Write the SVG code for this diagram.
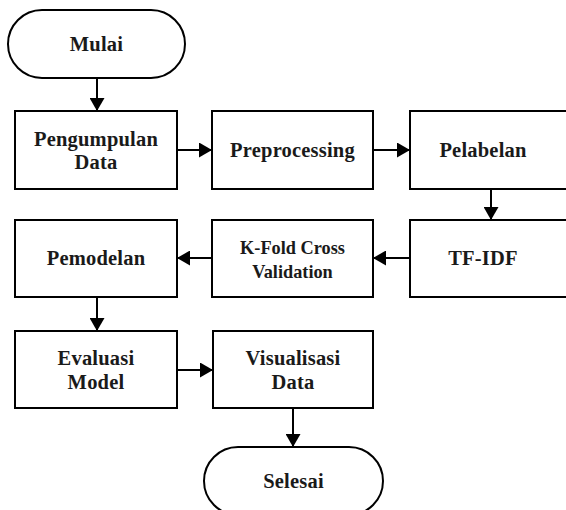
<svg xmlns="http://www.w3.org/2000/svg" width="566" height="510" viewBox="0 0 566 510">
<style>
.box{fill:#fff;stroke:#000;stroke-width:2}
.term{fill:#fff;stroke:#000;stroke-width:2}
.t{font-family:"Liberation Serif","Times New Roman",serif;font-weight:bold;font-size:20.5px;fill:#1a1a1a;text-anchor:middle;letter-spacing:0.2px}
.ts{font-size:18.3px;letter-spacing:0}
.c{stroke:#000;stroke-width:2;fill:none;marker-end:url(#ah)}
</style>
<defs>
<marker id="ah" markerUnits="userSpaceOnUse" markerWidth="14" markerHeight="15" refX="13" refY="7.5" orient="auto">
<path d="M0,0 L13,7.5 L0,15 Z" fill="#000"/>
</marker>
</defs>
<rect width="566" height="510" fill="#fff"/>
<g id="connectors">
<line class="c" x1="97" y1="78" x2="97" y2="111"/>
<line class="c" x1="177" y1="150" x2="212" y2="150"/>
<line class="c" x1="373" y1="150" x2="410" y2="150"/>
<line class="c" x1="491" y1="189" x2="491" y2="220"/>
<line class="c" x1="410" y1="258" x2="373" y2="258"/>
<line class="c" x1="212" y1="258" x2="177" y2="258"/>
<line class="c" x1="97" y1="297" x2="97" y2="331"/>
<line class="c" x1="177" y1="370" x2="213" y2="370"/>
<line class="c" x1="293" y1="408" x2="293" y2="447"/>
</g>
<g id="mulai">
<rect class="term" x="8" y="10" width="177" height="68" rx="34" ry="34"/>
<text class="t" x="96.5" y="51">Mulai</text>
</g>
<g id="pengumpulan">
<rect class="box" x="15" y="111" width="162" height="78"/>
<text class="t" x="96" y="146">Pengumpulan</text>
<text class="t" x="96" y="169">Data</text>
</g>
<g id="preprocessing">
<rect class="box" x="212" y="111" width="161" height="78"/>
<text class="t" x="292.5" y="157">Preprocessing</text>
</g>
<g id="pelabelan">
<rect class="box" x="410" y="111" width="162" height="78"/>
<text class="t" x="483" y="157">Pelabelan</text>
</g>
<g id="tfidf">
<rect class="box" x="410" y="220" width="162" height="77"/>
<text class="t" x="483" y="265">TF-IDF</text>
</g>
<g id="kfold">
<rect class="box" x="212" y="220" width="161" height="77"/>
<text class="t ts" x="292.5" y="254">K-Fold Cross</text>
<text class="t ts" x="292.5" y="278">Validation</text>
</g>
<g id="pemodelan">
<rect class="box" x="15" y="220" width="162" height="77"/>
<text class="t" x="96" y="265">Pemodelan</text>
</g>
<g id="evaluasi">
<rect class="box" x="15" y="331" width="162" height="77"/>
<text class="t" x="96" y="365">Evaluasi</text>
<text class="t" x="96" y="389">Model</text>
</g>
<g id="visualisasi">
<rect class="box" x="213" y="331" width="160" height="77"/>
<text class="t" x="293" y="365">Visualisasi</text>
<text class="t" x="293" y="389">Data</text>
</g>
<g id="selesai">
<rect class="term" x="204" y="447" width="179" height="68" rx="34" ry="34"/>
<text class="t" x="293.5" y="488">Selesai</text>
</g>
</svg>
